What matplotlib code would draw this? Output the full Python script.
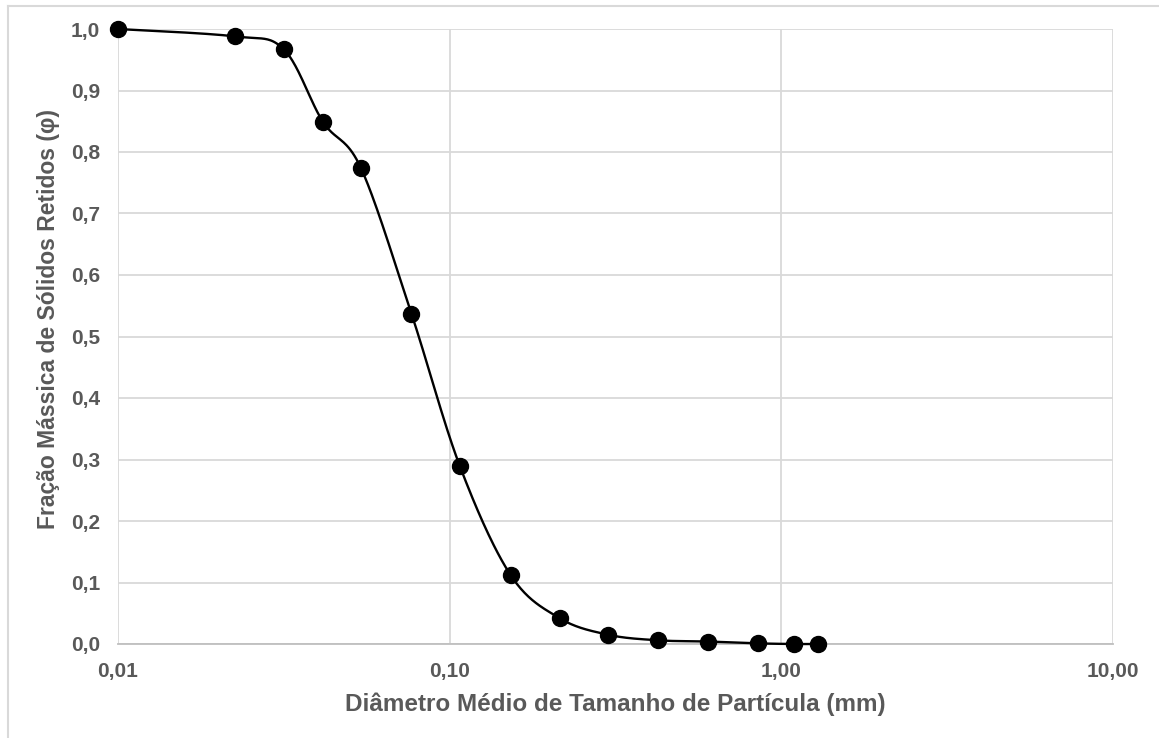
import numpy as np
import matplotlib
matplotlib.use("Agg")
import matplotlib.pyplot as plt
from matplotlib.lines import Line2D

# particle size data (mm) and retained mass fraction
diametro = [0.0100, 0.0225, 0.0316, 0.0415, 0.0540, 0.0767, 0.1072, 0.1527,
            0.2145, 0.3010, 0.4260, 0.6030, 0.8530, 1.0940, 1.2900]
fracao = [1.000, 0.988, 0.967, 0.849, 0.774, 0.537, 0.290, 0.112,
          0.042, 0.015, 0.006, 0.004, 0.001, 0.000, 0.000]

x_ticks = [0.01, 0.1, 1, 10]
x_ticklabels = ["0,01", "0,10", "1,00", "10,00"]
y_ticks = np.arange(0, 1.01, 0.1)
y_ticklabels = ["%.1f" % v for v in y_ticks]
y_ticklabels = [s.replace(".", ",") for s in y_ticklabels]

grey = "#595959"
plt.rcParams['font.family'] = ['Liberation Sans', 'DejaVu Sans']


# excel-like smoothed line: catmull-rom through points in (log x, y)
def smooth(xs, ys, n=40):
    px = np.log10(np.array(xs))
    py = np.array(ys)
    P = np.column_stack([px, py])
    P = np.vstack([P[0], P, P[-1]])
    out = []
    for i in range(1, len(P) - 2):
        p0, p1, p2, p3 = P[i - 1], P[i], P[i + 1], P[i + 2]
        c1 = p1 + (p2 - p0) / 6.0
        c2 = p2 - (p3 - p1) / 6.0
        t = np.linspace(0, 1, n)[:, None]
        seg = ((1 - t) ** 3) * p1 + 3 * ((1 - t) ** 2) * t * c1 + 3 * (1 - t) * t ** 2 * c2 + t ** 3 * p2
        out.append(seg)
    out = np.vstack(out)
    return 10 ** out[:, 0], out[:, 1]


fig = plt.figure(figsize=(11.59, 7.38), dpi=100)
ax = fig.add_axes([118 / 1159, 1 - 644 / 738, (1113 - 118) / 1159, (644 - 29) / 738])

sx, sy = smooth(diametro, fracao)
ax.plot(sx, sy, color="black", lw=1.7, zorder=3, clip_on=False)
ax.plot(diametro, fracao, "o", color="black", ms=11.5, zorder=4, clip_on=False)

ax.set_xscale("log")
ax.set_xlim(0.01, 10)
ax.set_ylim(0, 1)
ax.set_xticks(x_ticks)
ax.set_xticklabels(x_ticklabels)
ax.set_yticks(y_ticks)
ax.set_yticklabels(y_ticklabels)
ax.xaxis.set_minor_locator(matplotlib.ticker.NullLocator())
ax.tick_params(length=0, labelsize=15, labelcolor=grey, pad=13)
for lab in ax.get_xticklabels() + ax.get_yticklabels():
    lab.set_fontweight("bold")

ax.grid(True, color="#d9d9d9", lw=1.3)
ax.set_axisbelow(True)
for s in ["top", "right", "left"]:
    ax.spines[s].set_visible(False)
ax.spines["bottom"].set_color("#bfbfbf")
ax.spines["bottom"].set_linewidth(1.3)

ax.set_xlabel("Diâmetro Médio de Tamanho de Partícula (mm)", fontsize=17.5,
              fontweight="bold", color=grey, labelpad=8)
ax.set_ylabel("Fração Mássica de Sólidos Retidos (φ)", fontsize=16.5,
              fontweight="bold", color=grey)
ax.yaxis.set_label_coords(-0.058, 0.528)

# outer chart frame (only top and left visible in the crop)
fig.add_artist(Line2D([8 / 1159, 1], [1 - 6 / 738, 1 - 6 / 738], color="#d9d9d9", lw=1.5))
fig.add_artist(Line2D([8 / 1159, 8 / 1159], [0, 1 - 6 / 738], color="#d9d9d9", lw=1.5))

fig.savefig("out.png", dpi=100)
